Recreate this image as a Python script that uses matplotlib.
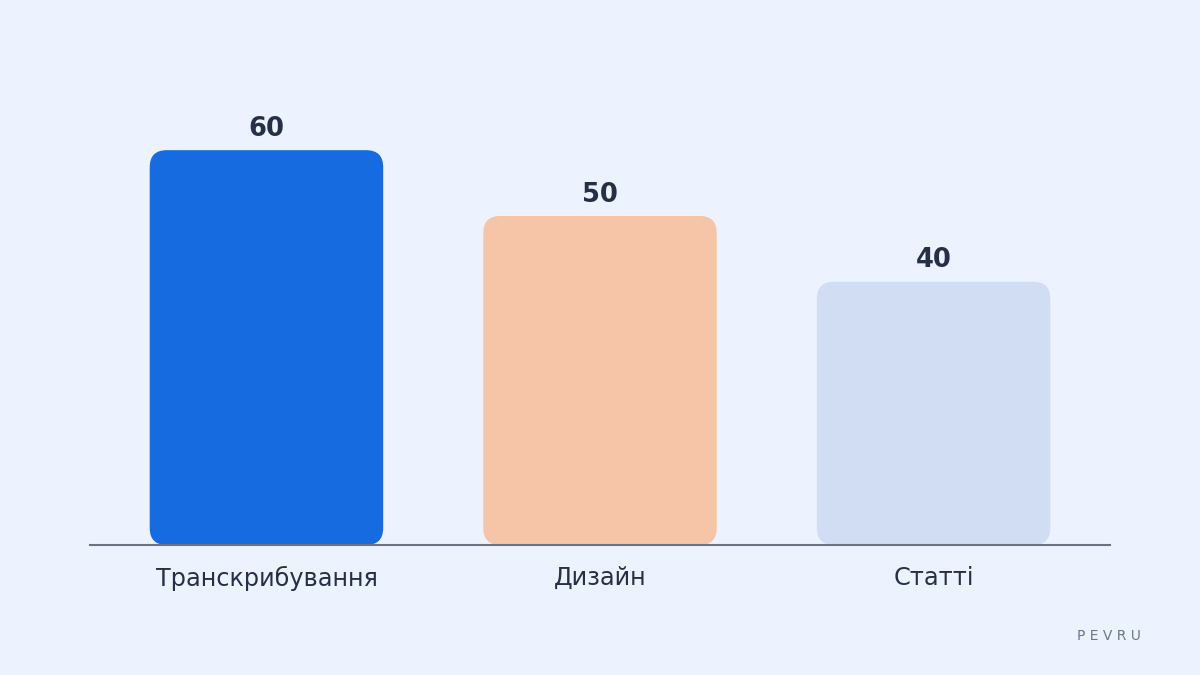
import matplotlib
matplotlib.use('Agg')
import matplotlib.pyplot as plt
from matplotlib.patches import FancyBboxPatch

categories = ['Транскрибування', 'Дизайн', 'Статті']
values = [60, 50, 40]
colors = ['#176be0', '#f6c4a6', '#d0ddf3']

bg = '#edf3fe'
text_col = '#253048'

fig = plt.figure(figsize=(12, 6.75), dpi=100)
fig.patch.set_facecolor(bg)
ax = fig.add_axes([0.075, 0.1926, 0.85, 0.6824])
ax.set_facecolor(bg)

ax.set_xlim(-0.529, 2.529)
ax.set_ylim(0, 70)

bar_w = 0.7
# px per unit, for keeping round corners round
px_x = 1020 / 3.058
px_y = 0.6824 * 675 / 70
r = 17 / px_x
aspect = px_x / px_y

bars = ax.bar(range(len(values)), values, width=bar_w, color='none')
for b, c in zip(bars, colors):
    x, y = b.get_x(), b.get_y()
    w, h = b.get_width(), b.get_height()
    p = FancyBboxPatch((x, y), w, h,
                       boxstyle='round,pad=0,rounding_size=%f' % r,
                       mutation_aspect=aspect, facecolor=c, edgecolor='none')
    ax.add_patch(p)

for i, v in enumerate(values):
    ax.annotate(str(v), (i, v), xytext=(0, 6), textcoords='offset points',
                ha='center', va='bottom', fontsize=18.5, fontweight='bold',
                color=text_col)

for s in ['top', 'right', 'left']:
    ax.spines[s].set_visible(False)
ax.spines['bottom'].set_color('#6b7385')
ax.spines['bottom'].set_linewidth(1.5)
ax.set_yticks([])
ax.set_xticks(range(len(categories)))
ax.set_xticklabels(categories, fontsize=17.3, color=text_col)
ax.tick_params(axis='x', length=0, pad=15)

fig.text(0.951, 0.058, 'P E V R U', ha='right', va='center', fontsize=10,
         color='#6b7790')

fig.savefig('out.png', dpi=100, facecolor=bg)
